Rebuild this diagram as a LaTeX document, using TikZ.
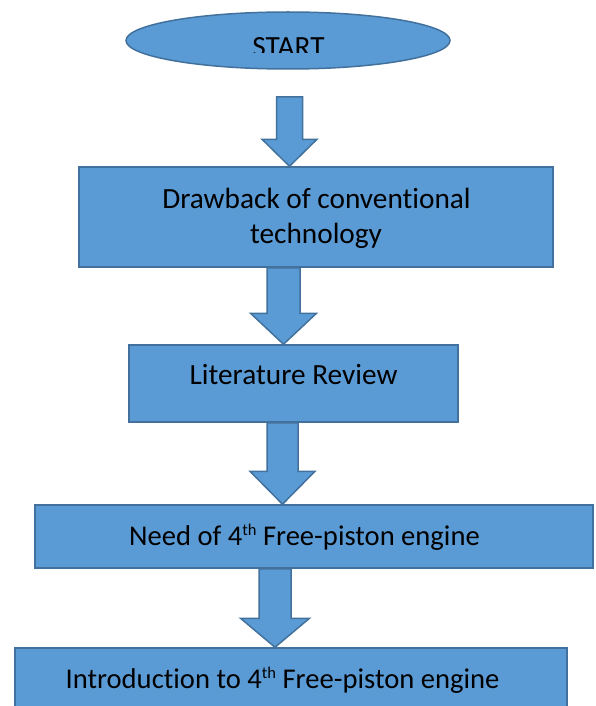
\documentclass[tikz,border=0pt]{standalone}
\usepackage{fontspec}
\setmainfont{Carlito}[Ligatures=NoCommon]
\usetikzlibrary{shapes.geometric,calc}
\definecolor{boxfill}{HTML}{5B9BD5}
\definecolor{boxline}{HTML}{41719C}
\tikzset{
  shapeline/.style={draw=boxline, fill=boxfill, line width=1.5pt, line join=miter},
  boxnode/.style={shapeline, rectangle, inner sep=0pt},
  flowtext/.style={font=\fontsize{29.3}{35}\selectfont, inner sep=0pt, anchor=base, text=black},
  flowtextb/.style={flowtext, font=\fontsize{28.6}{35}\selectfont},
}
\newcommand\flowsup[1]{\raisebox{10pt}{\fontsize{16.5}{16.5}\selectfont #1}}
\newcommand\flowarrow[5]{% #1 top, #2 tip, #3 shaft half width, #4 head half width, #5 head length
  \draw[shapeline] ($(#1)+(-#3,0)$) -- ($(#1)+(#3,0)$) -- ($(#2)+(#3,-#5)$) -- ($(#2)+(#4,-#5)$)
    -- (#2) -- ($(#2)+(-#4,-#5)$) -- ($(#2)+(-#3,-#5)$) -- cycle;}
\begin{document}
\begin{tikzpicture}[x=1pt,y=-1pt]
\useasboundingbox (0,0) rectangle (595,706);
\clip (0,0) rectangle (595,706);
% start ellipse
\node[shapeline, ellipse, inner sep=0pt, minimum width=324pt, minimum height=57pt] (start) at (288,40.5) {};
\begin{scope}
  \clip (140,0) rectangle (440,53);
  \node[flowtext] (starttext) at (288.5,57) {START};
\end{scope}
% boxes
\node[boxnode, minimum width=474pt, minimum height=100pt] (b1) at (316,217) {};
\node[boxnode, minimum width=329pt, minimum height=77pt] (b2) at (293.5,383.5) {};
\node[boxnode, minimum width=558pt, minimum height=63pt] (b3) at (314,536.5) {};
\node[boxnode, minimum width=552pt, minimum height=80pt] (b4) at (291,688) {};
% arrow coordinates
\coordinate (a1top) at (289.5,97);          \coordinate (a1tip) at (289.5,0 |- b1.north);
\coordinate (a2top) at (283.5,0 |- b1.south); \coordinate (a2tip) at (283.5,0 |- b2.north);
\coordinate (a3top) at (282.5,0 |- b2.south); \coordinate (a3tip) at (282.5,0 |- b3.north);
\coordinate (a4top) at (275,0 |- b3.south);   \coordinate (a4tip) at (275,0 |- b4.north);
\flowarrow{a1top}{a1tip}{13}{27.5}{27}
\flowarrow{a2top}{a2tip}{16.5}{33}{31}
\flowarrow{a3top}{a3tip}{15.5}{32.5}{33}
\flowarrow{a4top}{a4tip}{16}{34.5}{29}
% texts
\node[flowtext] (t1a) at (316.5,208) {Drawback of conventional};
\node[flowtext] (t1b) at (316,243) {technology};
\node[flowtext] (t2) at (293.5,384) {Literature Review};
\node[flowtextb] (t3) at (304.5,545) {Need of 4\flowsup{th} Free-piston engine};
\node[flowtextb] (t4) at (282.5,688) {Introduction to 4\flowsup{th} Free-piston engine};
\end{tikzpicture}
\end{document}
